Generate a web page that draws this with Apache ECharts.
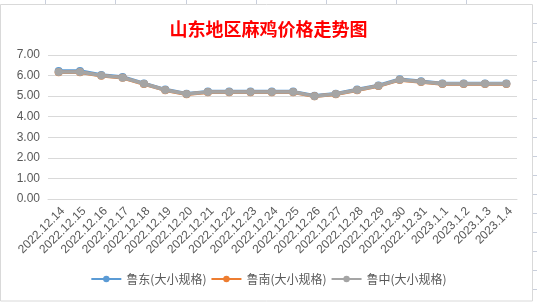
<!DOCTYPE html>
<html>
<head>
<meta charset="utf-8">
<script src="https://cdn.jsdelivr.net/npm/echarts@6/dist/echarts.min.js"></script>
<style>html,body{margin:0;padding:0;background:#fff;}#c{width:537px;height:302px;}</style>
</head>
<body>
<div id="c"></div>
<script>
var categories = ['2022.12.14','2022.12.15','2022.12.16','2022.12.17','2022.12.18','2022.12.19','2022.12.20','2022.12.21','2022.12.22','2022.12.23','2022.12.24','2022.12.25','2022.12.26','2022.12.27','2022.12.28','2022.12.29','2022.12.30','2022.12.31','2023.1.1','2023.1.2','2023.1.3','2023.1.4'];
var ludong = [6.22,6.22,6.03,5.93,5.62,5.32,5.12,5.22,5.22,5.22,5.22,5.22,5.02,5.12,5.32,5.52,5.82,5.72,5.62,5.62,5.62,5.62];
var lunan  = [6.16,6.16,5.99,5.89,5.59,5.29,5.09,5.19,5.19,5.19,5.19,5.19,4.99,5.09,5.29,5.49,5.79,5.69,5.59,5.59,5.59,5.59];
var luzhong= [6.17,6.17,6.0,5.9,5.6,5.3,5.1,5.2,5.2,5.2,5.2,5.2,5.0,5.1,5.3,5.5,5.8,5.7,5.6,5.6,5.6,5.6];
var seriesNames = ['鲁东(大小规格)','鲁南(大小规格)','鲁中(大小规格)'];
var yTicks = {min:0, max:7, interval:1};

var chart = echarts.init(document.getElementById('c'));
var gridColor = '#C9CFDC';
var graphics = [];
[45,115,186,256,326,396,466].forEach(function(x){
  graphics.push({type:'line', silent:true, shape:{x1:x+0.5,y1:0,x2:x+0.5,y2:4}, style:{stroke:gridColor,lineWidth:1}});
});
for (var y=23; y<302; y+=19) {
  graphics.push({type:'line', silent:true, shape:{x1:533,y1:y+0.5,x2:537,y2:y+0.5}, style:{stroke:gridColor,lineWidth:1}});
}
graphics.push({type:'rect', silent:true, shape:{x:0.5,y:4.5,width:532,height:296.5}, style:{fill:null,stroke:'#D9D9D9',lineWidth:1}});

function mk(name, data, color, z){
  return {name:name, type:'line', data:data, z:z, symbol:'circle', symbolSize:8,
    lineStyle:{color:color,width:3.5}, itemStyle:{color:color}, animation:false};
}
chart.setOption({
  animation:false,
  graphic: graphics,
  title:{text:'山东地区麻鸡价格走势图', left:'center', top:15,
    textStyle:{color:'#FF0000', fontSize:18, fontWeight:'bold', fontFamily:'Noto Sans CJK SC'}},
  grid:{left:48, right:20, top:55, bottom:103, containLabel:false},
  legend:{bottom:12, left:'center', itemWidth:30, itemHeight:8, itemGap:4,
    textStyle:{color:'#595959', fontSize:12, fontFamily:'Noto Sans CJK SC'},
    data:seriesNames},
  xAxis:{type:'category', data:categories, boundaryGap:true,
    axisLine:{show:true, lineStyle:{color:'#D9D9D9'}}, axisTick:{show:false},
    axisLabel:{rotate:45, interval:0, color:'#595959', fontSize:12, margin:6, verticalAlign:'top', fontFamily:'Liberation Sans'}},
  yAxis:{type:'value', min:yTicks.min, max:yTicks.max, interval:yTicks.interval,
    axisLine:{show:false}, axisTick:{show:false},
    splitLine:{lineStyle:{color:'#D9D9D9'}},
    axisLabel:{color:'#595959', fontSize:12, margin:8, fontFamily:'Liberation Sans', formatter:function(v){return v.toFixed(2);}}},
  series:[mk(seriesNames[0], ludong, '#5B9BD5', 2), mk(seriesNames[1], lunan, '#ED7D31', 3), mk(seriesNames[2], luzhong, '#A5A5A5', 4)]
});
</script>
</body>
</html>
